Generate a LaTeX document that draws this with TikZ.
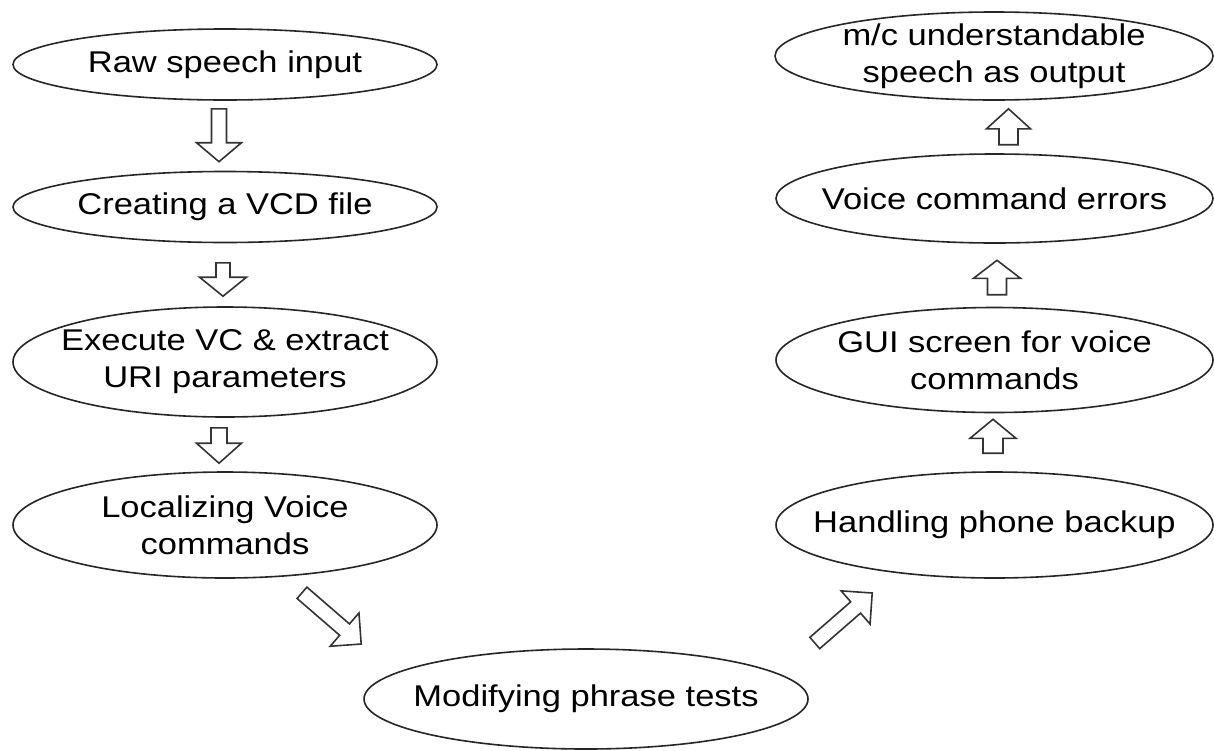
\documentclass[tikz,border=0pt]{standalone}
\usepackage{fontspec}
\newfontfamily\arialx[FakeStretch=1.15]{Liberation Sans}
\usetikzlibrary{shapes.geometric,calc}
\tikzset{
  stage/.style={ellipse, draw=black!85, line width=1.6pt, fill=white,
    inner xsep=-30pt, inner ysep=-8pt, align=center,
    font=\arialx\fontsize{30}{37}\selectfont, text=black},
  barrow/.style={draw=black!80, line width=1.6pt, fill=white, line join=miter}
}
\newcommand\blockarr[5]{%
  \coordinate (bb) at ($(#2)!#5!(#1)$);
  \draw[barrow] ($(#1)!#3!90:(#2)$) -- ($(bb)!#3!90:(#2)$) -- ($(bb)!#4!90:(#2)$)
    -- (#2) -- ($(bb)!#4!-90:(#2)$) -- ($(bb)!#3!-90:(#2)$) -- ($(#1)!#3!-90:(#2)$) -- cycle;
}
\begin{document}
\begin{tikzpicture}[x=1pt,y=-1pt]
\fill[white] (0,0) rectangle (1214,750);
\useasboundingbox (0,0) rectangle (1214,750);

\node[stage, minimum width=424pt, minimum height=71pt]  (n1) at (225,64.5) {Raw speech input};
\node[stage, minimum width=424pt, minimum height=71pt]  (n2) at (225,207) {Creating a VCD file};
\node[stage, minimum width=424pt, minimum height=110pt] (n3) at (225,362) {Execute VC \& extract\\URI parameters};
\node[stage, minimum width=424pt, minimum height=106pt] (n4) at (225,525) {Localizing Voice\\commands};
\node[stage, minimum width=444pt, minimum height=100pt] (n5) at (586,699) {Modifying phrase tests};
\node[stage, minimum width=437pt, minimum height=106pt] (n6) at (994.5,525) {Handling phone backup};
\node[stage, minimum width=437pt, minimum height=105pt] (n7) at (994.5,360) {GUI screen for voice\\commands};
\node[stage, minimum width=437pt, minimum height=89pt]  (n8) at (994.5,198.5) {Voice command errors};
\node[stage, minimum width=438pt, minimum height=88pt]  (n9) at (994,56) {m/c understandable\\speech as output};

% down arrows (left column)
\coordinate (a1s) at ($(n1.south)+(-6,8)$);
\coordinate (a1e) at ($(n2.north)+(-6,-9)$);
\coordinate (a2s) at ($(n2.south)+(-2,19.5)$);
\coordinate (a2e) at ($(n3.north)+(-2,-10)$);
\coordinate (a3s) at ($(n3.south)+(-6,10)$);
\coordinate (a3e) at ($(n4.north)+(-6,-8)$);
% diagonal arrows
\coordinate (d1s) at ($(n4.south)+(77,14)$);
\coordinate (d1e) at ($(n5.west)+(-2,-55)$);
\coordinate (d2s) at ($(n5.east)+(6,-56)$);
\coordinate (d2e) at ($(n6.west)+(97,68)$);
% up arrows (right column)
\coordinate (u3s) at ($(n6.north)+(-1.5,-18)$);
\coordinate (u3e) at ($(n7.south)+(-1.5,6)$);
\coordinate (u2s) at ($(n7.north)+(2.5,-12)$);
\coordinate (u2e) at ($(n8.south)+(2.5,16.5)$);
\coordinate (u1s) at ($(n8.north)+(14,-8.5)$);
\coordinate (u1e) at ($(n9.south)+(14.5,8)$);

\blockarr{a1s}{a1e}{7.5pt}{22.5pt}{19pt}
\blockarr{a2s}{a2e}{7pt}{23.5pt}{19pt}
\blockarr{a3s}{a3e}{8pt}{22.5pt}{20pt}
\blockarr{d1s}{d1e}{7.5pt}{22pt}{22pt}
\blockarr{d2s}{d2e}{7.5pt}{22pt}{22pt}
\blockarr{u3s}{u3e}{10pt}{23pt}{19pt}
\blockarr{u2s}{u2e}{9.5pt}{23.5pt}{18pt}
\blockarr{u1s}{u1e}{9.5pt}{22pt}{20pt}
\end{tikzpicture}
\end{document}
